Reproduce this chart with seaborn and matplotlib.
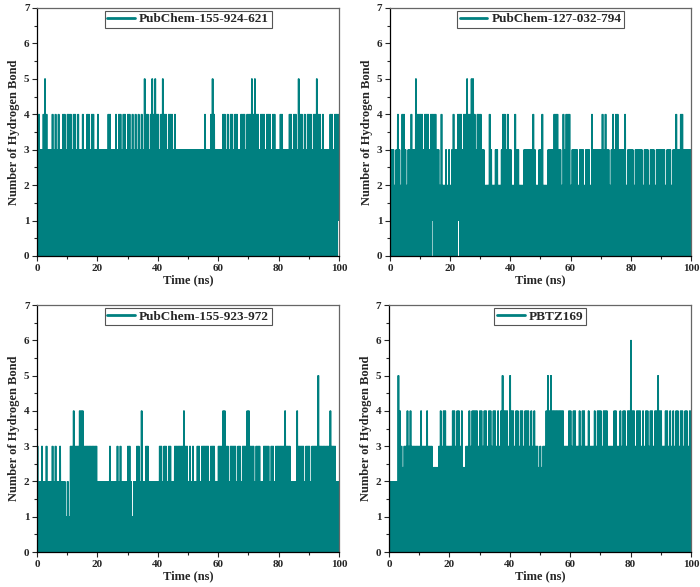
import matplotlib
matplotlib.use("Agg")
import matplotlib.pyplot as plt
import seaborn as sns
import pandas as pd
from matplotlib.ticker import MultipleLocator

# legend names of the four panels
names = ["PubChem-155-924-621", "PubChem-127-032-794", "PubChem-155-923-972", "PBTZ169"]

# upper level of the H-bond count, one char per 0.5 ns bin (h = ~2.4)
hb_621 = ("44334543334343433443" "44434434334334434433" "43333334433343443443"
          "44343434343544345454" "43454434443433333333" "33333333333433345433"
          "33344343443443344434" "44545443444344434433" "34433334434435443434"
          "44344544343333443444")
hb_794 = ("33323432443233433544" "44344434444332422323" "23433444344544554344"
          "43322243223322344343" "32243322233333343223" "34222333344433243444"
          "23333233323332433333" "34343323434433334233" "33233333233323332333"
          "33323332334334433333")
hb_972 = ("32232232223232232221" "21334333444333333333" "22222222322223232222"
          "33212233242233222222" "23323323322333333433" "23232233233333233322"
          "33344332333323323334" "43332333223333233233" "33334333222243333233"
          "32333353333333433322")
hb_pbtz = ("222222543h3343433333" "343334333hhhh3434433" "334434434hh334344443"
           "44344344344343454443" "5443443443444343433h" "3h334545444444443334"
           "43443343443343334344" "43444333344334344344" "64434443434434434454"
           "43344343434434434434")

# bins where the count never drops to 0 (lower level)
low_621 = {199: 1}
low_794 = {28: 1, 45: 1}
low_972 = {}
low_pbtz = {}

series = [hb_621, hb_794, hb_972, hb_pbtz]
lows = [low_621, low_794, low_972, low_pbtz]

teal = "#008080"


def build(upper, low):
    # each 0.5 ns bin swings between its upper and lower level (frames)
    t, v = [], []
    for k, c in enumerate(upper):
        hi = 2.4 if c == "h" else int(c)
        lo = low.get(k, 0)
        for j in range(4):
            t.append(0.5 * k + 0.125 * j)
            v.append(hi if j % 2 == 0 else lo)
    t.append(100.0)
    v.append(v[-2])
    return pd.DataFrame({"time": t, "hb": v})


sns.set_style("ticks")
plt.rcParams["font.family"] = ["Liberation Serif", "DejaVu Serif"]
plt.rcParams["font.weight"] = "bold"

fig = plt.figure(figsize=(7.0, 5.87), dpi=100)
boxes = [[0.053, 0.5639, 0.4314, 0.4225],
         [0.5571, 0.5639, 0.430, 0.4225],
         [0.053, 0.0596, 0.4314, 0.4208],
         [0.5557, 0.0596, 0.4314, 0.4208]]

for box, name, up, low in zip(boxes, names, series, lows):
    ax = fig.add_axes(box)
    df = build(up, low)
    sns.lineplot(data=df, x="time", y="hb", ax=ax, color=teal, lw=0.7,
                 estimator=None, sort=False, label=name)
    ax.set_xlim(0, 100)
    ax.set_ylim(0, 7)
    ax.xaxis.set_major_locator(MultipleLocator(20))
    ax.xaxis.set_minor_locator(MultipleLocator(10))
    ax.yaxis.set_major_locator(MultipleLocator(1))
    ax.yaxis.set_minor_locator(MultipleLocator(0.5))
    ax.tick_params(which="major", direction="out", length=3.5, width=0.8,
                   labelsize=8, pad=2)
    ax.tick_params(which="minor", direction="out", length=2, width=0.8)
    for lab in ax.get_xticklabels() + ax.get_yticklabels():
        lab.set_fontweight("bold")
    ax.set_xlabel("Time (ns)", fontsize=9, fontweight="bold", labelpad=1)
    ax.set_ylabel("Number of Hydrogen Bond", fontsize=9, fontweight="bold", labelpad=3)
    for s in ["left", "bottom"]:
        ax.spines[s].set_color("black")
        ax.spines[s].set_linewidth(0.9)
    for s in ["top", "right"]:
        ax.spines[s].set_color("#666666")
        ax.spines[s].set_linewidth(0.9)
    leg = ax.legend(loc="upper center", fancybox=False, framealpha=1,
                    edgecolor="#555555", handlelength=2.1,
                    handletextpad=0.3, borderpad=0.2, borderaxespad=0.2,
                    prop={"weight": "bold", "size": 9.5})
    leg.get_frame().set_linewidth(0.8)
    for h in leg.legend_handles:
        h.set_linewidth(2)

fig.savefig("out.png", dpi=100)
